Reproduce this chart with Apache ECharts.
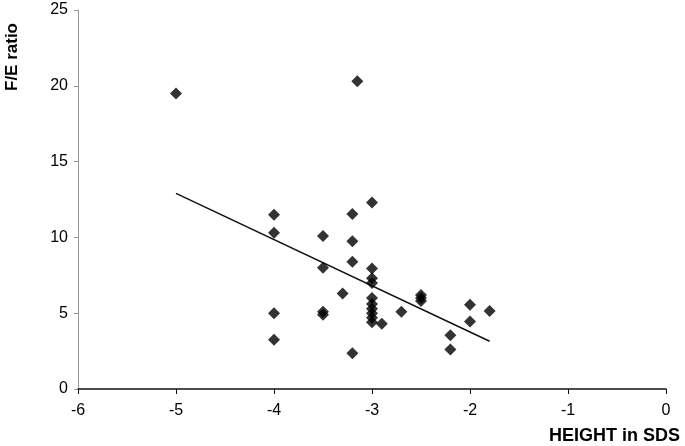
<!DOCTYPE html>
<html>
<head>
<meta charset="utf-8">
<script src="https://cdn.jsdelivr.net/npm/echarts@6/dist/echarts.min.js"></script>
<style>
  html, body { margin: 0; padding: 0; background: #fff; }
  #chart { width: 685px; height: 446px; }
</style>
</head>
<body>
<div id="chart"></div>
<script>
// height SDS (x) and F/E ratio (y) per patient
var heightSds = [
  -5.0, -3.15,
  -4.0, -4.0, -4.0, -4.0,
  -3.5, -3.5, -3.5, -3.5,
  -3.3,
  -3.2, -3.2, -3.2, -3.2,
  -3.0, -3.0, -3.0, -3.0, -3.0, -3.0, -3.0, -3.0, -3.0, -3.0,
  -2.9, -2.7,
  -2.5, -2.5, -2.5,
  -2.2, -2.2,
  -2.0, -2.0,
  -1.8
];
var feRatio = [
  19.5, 20.3,
  11.5, 10.3, 5.0, 3.25,
  10.1, 8.0, 5.1, 4.9,
  6.3,
  11.55, 9.75, 8.4, 2.35,
  12.3, 7.95, 7.3, 7.0, 6.0, 5.6, 5.3, 5.0, 4.7, 4.4,
  4.3, 5.1,
  6.2, 6.0, 5.8,
  3.55, 2.6,
  5.55, 4.45,
  5.15
];
// fitted regression line end points
var trendX = [-5.0, -1.8];
var trendY = [12.9, 3.15];

var xTicks = { min: -6, max: 0, step: 1 };
var yTicks = { min: 0, max: 25, step: 5 };

var points = heightSds.map(function (x, i) { return [x, feRatio[i]]; });
var trend = trendX.map(function (x, i) { return [x, trendY[i]]; });

var chart = echarts.init(document.getElementById('chart'));
chart.setOption({
  animation: false,
  backgroundColor: '#fff',
  textStyle: { fontFamily: 'Liberation Sans, Arial, sans-serif' },
  grid: { left: 78, right: 19, top: 10, bottom: 57 },
  xAxis: {
    type: 'value',
    min: xTicks.min, max: xTicks.max, interval: xTicks.step,
    axisLine: { show: true, onZero: false, lineStyle: { color: '#111', width: 1.5 } },
    axisTick: { show: true, length: 5, lineStyle: { color: '#111' } },
    axisLabel: { color: '#000', fontSize: 16, margin: 14 },
    splitLine: { show: false }
  },
  yAxis: {
    type: 'value',
    min: yTicks.min, max: yTicks.max, interval: yTicks.step,
    axisLine: { show: true, onZero: false, lineStyle: { color: '#999', width: 1 } },
    axisTick: { show: true, length: 4, lineStyle: { color: '#999' } },
    axisLabel: { color: '#000', fontSize: 16, margin: 10 },
    splitLine: { show: false }
  },
  graphic: [
    {
      type: 'text', x: 12, y: 57, rotation: Math.PI / 2,
      style: {
        text: 'F/E ratio', fill: '#000', fontSize: 17, fontWeight: 'bold',
        fontFamily: 'Liberation Sans, Arial, sans-serif',
        textAlign: 'center', textVerticalAlign: 'middle'
      }
    },
    {
      type: 'text', x: 680, y: 436,
      style: {
        text: 'HEIGHT in SDS', fill: '#000', fontSize: 18, fontWeight: 'bold',
        fontFamily: 'Liberation Sans, Arial, sans-serif',
        textAlign: 'right', textVerticalAlign: 'middle'
      }
    }
  ],
  series: [
    {
      type: 'line',
      data: trend,
      symbol: 'none',
      lineStyle: { color: '#111', width: 1.5 },
      z: 1
    },
    {
      type: 'scatter',
      data: points,
      symbol: 'diamond',
      symbolSize: [12, 12],
      itemStyle: { color: '#000' },
      z: 2
    }
  ]
});
</script>
</body>
</html>
